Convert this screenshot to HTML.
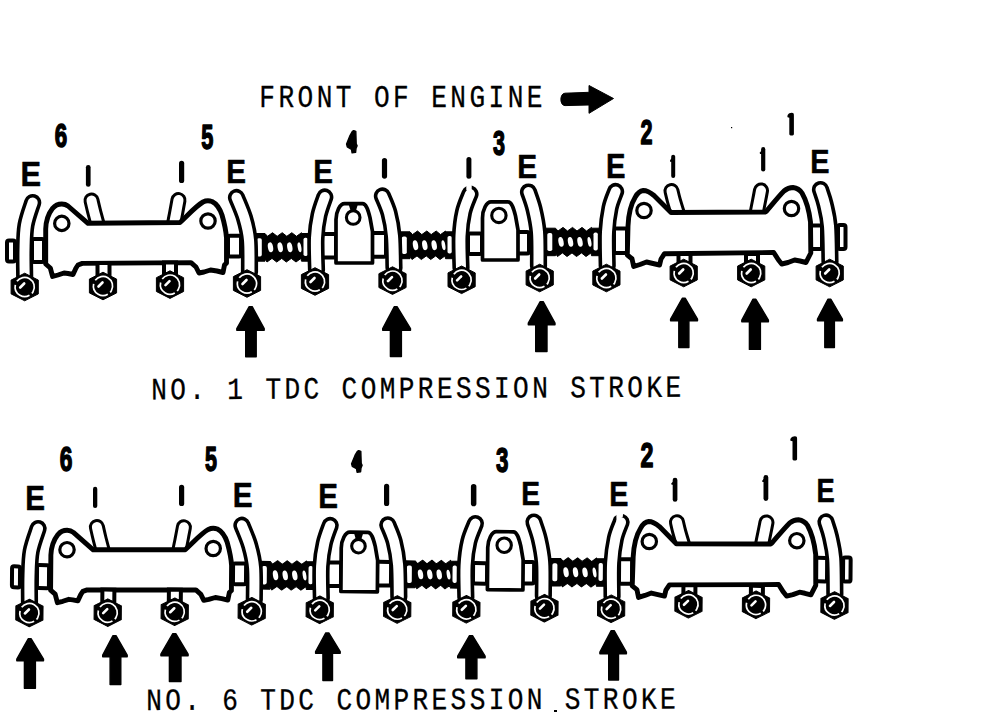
<!DOCTYPE html>
<html><head><meta charset="utf-8"><style>
html,body{margin:0;padding:0;background:#fff;}
svg{display:block;}
</style></head><body>
<svg width="996" height="722" viewBox="0 0 996 722">
<rect width="996" height="722" fill="#fff"/>
<g id="asm">
<rect x="7.0" y="240.5" width="8.0" height="21.0" rx="2" fill="#fff" stroke="#000" stroke-width="4"/>
<rect x="32.0" y="239.0" width="12.0" height="23.0" rx="2" fill="#fff" stroke="#000" stroke-width="4"/>
<rect x="228.0" y="235.8" width="13.0" height="20.7" rx="2" fill="#fff" stroke="#000" stroke-width="4"/>
<path d="M254.0,233.5 L265.0,233.5 L267.5,236.3 L272.5,232.7 L277.2,236.3 L282.2,232.7 L286.8,236.3 L291.8,232.7 L296.5,236.3 L301.5,232.7 L301.5,233.5 L311.0,233.5 L311.0,261.2 L301.5,261.2 L301.0,258.4 L296.0,262.0 L291.3,258.4 L286.3,262.0 L281.7,258.4 L276.7,262.0 L272.0,258.4 L267.0,262.0 L265.0,258.9 L265.0,261.2 L254.0,261.2 Z" fill="#000" stroke="#000" stroke-width="1" stroke-linejoin="round"/><rect x="256.8" y="238.2" width="5" height="18.3" rx="1.8" fill="#fff"/><rect x="303.5" y="237.7" width="4.3" height="18.3" rx="1.8" fill="#fff"/><ellipse cx="270.5" cy="247.3" rx="2.6" ry="5" fill="#fff" transform="rotate(-10 270.5 247.3)"/><ellipse cx="280.2" cy="247.3" rx="2.6" ry="5" fill="#fff" transform="rotate(-10 280.2 247.3)"/><ellipse cx="289.8" cy="247.3" rx="2.6" ry="5" fill="#fff" transform="rotate(-10 289.8 247.3)"/><ellipse cx="299.5" cy="247.3" rx="1.8" ry="5" fill="#fff" transform="rotate(-10 299.5 247.3)"/>
<rect x="322.0" y="234.0" width="14.0" height="23.5" rx="2" fill="#fff" stroke="#000" stroke-width="4"/>
<rect x="372.0" y="233.0" width="14.0" height="23.7" rx="2" fill="#fff" stroke="#000" stroke-width="4"/>
<path d="M399.0,231.8 L410.0,231.8 L412.5,234.6 L417.5,231.0 L421.8,234.6 L426.8,231.0 L431.2,234.6 L436.2,231.0 L440.5,234.6 L445.5,231.0 L445.5,231.8 L455.0,231.8 L455.0,258.7 L445.5,258.7 L445.0,255.9 L440.0,259.5 L435.7,255.9 L430.7,259.5 L426.3,255.9 L421.3,259.5 L417.0,255.9 L412.0,259.5 L410.0,256.4 L410.0,258.7 L399.0,258.7 Z" fill="#000" stroke="#000" stroke-width="1" stroke-linejoin="round"/><rect x="401.8" y="236.5" width="5" height="17.5" rx="1.8" fill="#fff"/><rect x="447.5" y="236.0" width="4.3" height="17.5" rx="1.8" fill="#fff"/><ellipse cx="415.5" cy="245.2" rx="2.6" ry="5" fill="#fff" transform="rotate(-10 415.5 245.2)"/><ellipse cx="424.8" cy="245.2" rx="2.6" ry="5" fill="#fff" transform="rotate(-10 424.8 245.2)"/><ellipse cx="434.2" cy="245.2" rx="2.6" ry="5" fill="#fff" transform="rotate(-10 434.2 245.2)"/><ellipse cx="443.5" cy="245.2" rx="1.8" ry="5" fill="#fff" transform="rotate(-10 443.5 245.2)"/>
<rect x="468.0" y="233.5" width="14.0" height="20.5" rx="2" fill="#fff" stroke="#000" stroke-width="4"/>
<rect x="517.0" y="232.0" width="12.0" height="21.5" rx="2" fill="#fff" stroke="#000" stroke-width="4"/>
<path d="M544.5,228.2 L555.5,228.2 L558.0,231.0 L563.0,227.4 L567.5,231.0 L572.5,227.4 L577.0,231.0 L582.0,227.4 L586.5,231.0 L591.5,227.4 L591.5,228.2 L601.0,228.2 L601.0,255.7 L591.5,255.7 L591.0,252.9 L586.0,256.5 L581.5,252.9 L576.5,256.5 L572.0,252.9 L567.0,256.5 L562.5,252.9 L557.5,256.5 L555.5,253.4 L555.5,255.7 L544.5,255.7 Z" fill="#000" stroke="#000" stroke-width="1" stroke-linejoin="round"/><rect x="547.3" y="232.9" width="5" height="18.1" rx="1.8" fill="#fff"/><rect x="593.5" y="232.4" width="4.3" height="18.1" rx="1.8" fill="#fff"/><ellipse cx="561.0" cy="241.9" rx="2.6" ry="5" fill="#fff" transform="rotate(-10 561.0 241.9)"/><ellipse cx="570.5" cy="241.9" rx="2.6" ry="5" fill="#fff" transform="rotate(-10 570.5 241.9)"/><ellipse cx="580.0" cy="241.9" rx="2.6" ry="5" fill="#fff" transform="rotate(-10 580.0 241.9)"/><ellipse cx="589.5" cy="241.9" rx="1.8" ry="5" fill="#fff" transform="rotate(-10 589.5 241.9)"/>
<rect x="614.0" y="228.5" width="13.0" height="24.5" rx="2" fill="#fff" stroke="#000" stroke-width="4"/>
<rect x="811.0" y="225.5" width="11.0" height="23.5" rx="2" fill="#fff" stroke="#000" stroke-width="4"/>
<rect x="838.0" y="225.0" width="7.5" height="24.0" rx="2" fill="#fff" stroke="#000" stroke-width="4"/>
<path d="M91.5,200.5 C91.9,202.2 93.0,207.1 94.0,211.0 C95.0,214.9 96.9,221.8 97.5,224.0" stroke="#000" stroke-width="16" fill="none" stroke-linecap="round" stroke-linejoin="round"/><path d="M91.5,200.5 C91.9,202.2 93.0,207.1 94.0,211.0 C95.0,214.9 96.9,221.8 97.5,224.0" stroke="#fff" stroke-width="10" fill="none" stroke-linecap="round" stroke-linejoin="round"/>
<path d="M178.5,200.0 C178.2,201.8 177.2,207.0 176.5,211.0 C175.8,215.0 174.4,221.8 174.0,224.0" stroke="#000" stroke-width="16" fill="none" stroke-linecap="round" stroke-linejoin="round"/><path d="M178.5,200.0 C178.2,201.8 177.2,207.0 176.5,211.0 C175.8,215.0 174.4,221.8 174.0,224.0" stroke="#fff" stroke-width="10" fill="none" stroke-linecap="round" stroke-linejoin="round"/>
<path d="M671.5,191.0 C671.9,192.7 672.9,197.2 674.0,201.0 C675.1,204.8 677.3,211.8 678.0,214.0" stroke="#000" stroke-width="16" fill="none" stroke-linecap="round" stroke-linejoin="round"/><path d="M671.5,191.0 C671.9,192.7 672.9,197.2 674.0,201.0 C675.1,204.8 677.3,211.8 678.0,214.0" stroke="#fff" stroke-width="10" fill="none" stroke-linecap="round" stroke-linejoin="round"/>
<path d="M761.0,190.5 C760.7,192.2 759.8,197.1 759.0,201.0 C758.2,204.9 756.9,211.8 756.5,214.0" stroke="#000" stroke-width="16" fill="none" stroke-linecap="round" stroke-linejoin="round"/><path d="M761.0,190.5 C760.7,192.2 759.8,197.1 759.0,201.0 C758.2,204.9 756.9,211.8 756.5,214.0" stroke="#fff" stroke-width="10" fill="none" stroke-linecap="round" stroke-linejoin="round"/>
<path d="M45.7,264 L45.7,229 C46,220 49,213 52.6,208.3 C55,205.5 58,204 61.8,204 C64,204 66,204.5 68,206 L88,223.3 L180,222.5 C188,215 196,206 203,202 C206,200.5 209,200.5 212,201.5 C217,204 220,209 222,215 C224,222 226,230 226.5,238 L226.5,263 L224.5,265 L223,272.5 L217,271 L210.5,270 L204,272 L199,273 L196,267 L191,262.6 L82.3,263.4 L78,265 L76,268 L73,274.5 L68,273.5 L64,273 L58,275 L52.6,276.5 L50.3,268 Z" fill="#fff" stroke="#000" stroke-width="4.9" stroke-linejoin="round"/>
<circle cx="61.8" cy="223.4" r="7.2" fill="#fff" stroke="#000" stroke-width="3.2"/>
<circle cx="208" cy="221" r="7.2" fill="#fff" stroke="#000" stroke-width="3.2"/>
<path d="M627.3,255 L628,226 C628.5,214 631,204 635.3,197 C637.5,193 640,191 643.3,190.5 C647,190.5 651,193 654,195.5 L671,212.5 L765.7,212 C771,206 778,197 784,191 C787,188.5 790,187.5 793,187.5 C797,188 800,190 802,193 C806,200 809,210 810.5,222 L810.8,253 L806,262.5 L800,261 L794.6,260 L788,262.5 L781.7,264 L778.5,260 L773.7,252.5 L664.5,253.7 L661,259 L659.6,265 L653,263.5 L646.5,262 L640,264.5 L633.7,266.5 L632,258.7 Z" fill="#fff" stroke="#000" stroke-width="4.9" stroke-linejoin="round"/>
<circle cx="644" cy="210.5" r="7.2" fill="#fff" stroke="#000" stroke-width="3.2"/>
<circle cx="791.5" cy="208.5" r="7.2" fill="#fff" stroke="#000" stroke-width="3.2"/>
<path d="M336.0,263.0 L336.0,219.6 C336.0,211.6 340.0,203.6 344.5,203.6 L362.5,203.6 C366.0,203.6 368.0,209.6 370.0,217.6 L372.5,231.6 L372.5,263.0 Z" fill="#fff" stroke="#000" stroke-width="3.7" stroke-linejoin="round"/><circle cx="353.2" cy="217.5" r="6.8" fill="#fff" stroke="#000" stroke-width="3.1"/>
<path d="M348.5,204 L358,204 L356,210.5 L350.5,210.5 Z" fill="#000"/>
<path d="M482.5,260.0 L482.5,217.9 C482.5,209.9 486.5,201.9 491.0,201.9 L508.0,201.9 C511.5,201.9 513.5,207.9 515.5,215.9 L518.0,229.9 L518.0,260.0 Z" fill="#fff" stroke="#000" stroke-width="3.7" stroke-linejoin="round"/><circle cx="498.9" cy="215.4" r="7.2" fill="#fff" stroke="#000" stroke-width="3.1"/>
<rect x="97.5" y="263.0" width="12.0" height="13.0" fill="#fff" stroke="#000" stroke-width="4"/>
<rect x="164.0" y="262.5" width="12.0" height="11.5" fill="#fff" stroke="#000" stroke-width="4"/>
<rect x="678.5" y="254.0" width="12.0" height="10.0" fill="#fff" stroke="#000" stroke-width="4"/>
<rect x="746.0" y="254.0" width="12.0" height="10.0" fill="#fff" stroke="#000" stroke-width="4"/>
<path d="M32.7,202.5 C31.6,206.2 27.4,217.1 26.0,225.0 C24.6,232.9 24.7,241.2 24.5,250.0 C24.3,258.8 24.7,273.3 24.7,278.0" stroke="#000" stroke-width="17.2" fill="none" stroke-linecap="round" stroke-linejoin="round"/><path d="M32.7,202.5 C31.6,206.2 27.4,217.1 26.0,225.0 C24.6,232.9 24.7,241.2 24.5,250.0 C24.3,258.8 24.7,273.3 24.7,278.0" stroke="#fff" stroke-width="10" fill="none" stroke-linecap="round" stroke-linejoin="round"/>
<path d="M236.5,197.5 C237.8,200.9 242.4,210.9 244.5,218.0 C246.6,225.1 248.2,231.0 249.0,240.0 C249.8,249.0 249.4,266.7 249.5,272.0" stroke="#000" stroke-width="17.2" fill="none" stroke-linecap="round" stroke-linejoin="round"/><path d="M236.5,197.5 C237.8,200.9 242.4,210.9 244.5,218.0 C246.6,225.1 248.2,231.0 249.0,240.0 C249.8,249.0 249.4,266.7 249.5,272.0" stroke="#fff" stroke-width="10" fill="none" stroke-linecap="round" stroke-linejoin="round"/>
<path d="M324.8,197.0 C323.8,200.0 320.5,208.2 319.0,215.0 C317.5,221.8 316.4,228.8 316.0,238.0 C315.6,247.2 316.4,264.7 316.5,270.0" stroke="#000" stroke-width="17.2" fill="none" stroke-linecap="round" stroke-linejoin="round"/><path d="M324.8,197.0 C323.8,200.0 320.5,208.2 319.0,215.0 C317.5,221.8 316.4,228.8 316.0,238.0 C315.6,247.2 316.4,264.7 316.5,270.0" stroke="#fff" stroke-width="10" fill="none" stroke-linecap="round" stroke-linejoin="round"/>
<path d="M382.4,196.0 C383.5,198.8 387.2,206.3 389.0,213.0 C390.8,219.7 392.2,226.8 393.0,236.0 C393.8,245.2 393.8,262.7 394.0,268.0" stroke="#000" stroke-width="17.2" fill="none" stroke-linecap="round" stroke-linejoin="round"/><path d="M382.4,196.0 C383.5,198.8 387.2,206.3 389.0,213.0 C390.8,219.7 392.2,226.8 393.0,236.0 C393.8,245.2 393.8,262.7 394.0,268.0" stroke="#fff" stroke-width="10" fill="none" stroke-linecap="round" stroke-linejoin="round"/>
<path d="M470.0,194.0 C468.9,197.0 465.1,205.0 463.5,212.0 C461.9,219.0 460.9,226.7 460.5,236.0 C460.1,245.3 460.9,262.7 461.0,268.0" stroke="#000" stroke-width="17.2" fill="none" stroke-linecap="round" stroke-linejoin="round"/><path d="M470.0,194.0 C468.9,197.0 465.1,205.0 463.5,212.0 C461.9,219.0 460.9,226.7 460.5,236.0 C460.1,245.3 460.9,262.7 461.0,268.0" stroke="#fff" stroke-width="10" fill="none" stroke-linecap="round" stroke-linejoin="round"/>
<path d="M528.5,192.0 C529.4,194.8 532.4,202.3 534.0,209.0 C535.6,215.7 537.2,222.5 538.0,232.0 C538.8,241.5 538.4,260.3 538.5,266.0" stroke="#000" stroke-width="17.2" fill="none" stroke-linecap="round" stroke-linejoin="round"/><path d="M528.5,192.0 C529.4,194.8 532.4,202.3 534.0,209.0 C535.6,215.7 537.2,222.5 538.0,232.0 C538.8,241.5 538.4,260.3 538.5,266.0" stroke="#fff" stroke-width="10" fill="none" stroke-linecap="round" stroke-linejoin="round"/>
<path d="M615.6,191.5 C614.7,194.2 611.4,201.2 610.0,208.0 C608.6,214.8 607.5,222.3 607.0,232.0 C606.5,241.7 607.2,260.3 607.2,266.0" stroke="#000" stroke-width="17.2" fill="none" stroke-linecap="round" stroke-linejoin="round"/><path d="M615.6,191.5 C614.7,194.2 611.4,201.2 610.0,208.0 C608.6,214.8 607.5,222.3 607.0,232.0 C606.5,241.7 607.2,260.3 607.2,266.0" stroke="#fff" stroke-width="10" fill="none" stroke-linecap="round" stroke-linejoin="round"/>
<path d="M820.5,189.5 C821.2,191.9 823.6,197.9 825.0,204.0 C826.4,210.1 828.2,216.3 829.0,226.0 C829.8,235.7 829.8,256.0 830.0,262.0" stroke="#000" stroke-width="17.2" fill="none" stroke-linecap="round" stroke-linejoin="round"/><path d="M820.5,189.5 C821.2,191.9 823.6,197.9 825.0,204.0 C826.4,210.1 828.2,216.3 829.0,226.0 C829.8,235.7 829.8,256.0 830.0,262.0" stroke="#fff" stroke-width="10" fill="none" stroke-linecap="round" stroke-linejoin="round"/>
<polygon points="24.7,273.2 38.3,280.1 38.3,293.9 24.7,300.8 11.1,293.9 11.1,280.1" fill="#000" stroke="#000" stroke-width="1" stroke-linejoin="round"/><circle cx="24.7" cy="287.0" r="9.6" fill="none" stroke="#fff" stroke-width="1.7" stroke-dasharray="17 3 22 4" transform="rotate(-60 24.7 287.0)"/><line x1="20.2" y1="287.5" x2="24.2" y2="283.5" stroke="#fff" stroke-width="2.6" stroke-linecap="round"/>
<polygon points="103.0,272.2 116.6,279.1 116.6,292.9 103.0,299.8 89.4,292.9 89.4,279.1" fill="#000" stroke="#000" stroke-width="1" stroke-linejoin="round"/><circle cx="103.0" cy="286.0" r="9.6" fill="none" stroke="#fff" stroke-width="1.7" stroke-dasharray="17 3 22 4" transform="rotate(-60 103.0 286.0)"/><line x1="98.5" y1="286.5" x2="102.5" y2="282.5" stroke="#fff" stroke-width="2.6" stroke-linecap="round"/>
<polygon points="170.0,270.8 183.6,277.7 183.6,291.5 170.0,298.4 156.4,291.5 156.4,277.7" fill="#000" stroke="#000" stroke-width="1" stroke-linejoin="round"/><circle cx="170.0" cy="284.6" r="9.6" fill="none" stroke="#fff" stroke-width="1.7" stroke-dasharray="17 3 22 4" transform="rotate(-60 170.0 284.6)"/><line x1="165.5" y1="285.1" x2="169.5" y2="281.1" stroke="#fff" stroke-width="2.6" stroke-linecap="round"/>
<polygon points="247.0,269.7 260.6,276.6 260.6,290.4 247.0,297.3 233.4,290.4 233.4,276.6" fill="#000" stroke="#000" stroke-width="1" stroke-linejoin="round"/><circle cx="247.0" cy="283.5" r="9.6" fill="none" stroke="#fff" stroke-width="1.7" stroke-dasharray="17 3 22 4" transform="rotate(-60 247.0 283.5)"/><line x1="242.5" y1="284.0" x2="246.5" y2="280.0" stroke="#fff" stroke-width="2.6" stroke-linecap="round"/>
<polygon points="315.0,267.7 328.6,274.6 328.6,288.4 315.0,295.3 301.4,288.4 301.4,274.6" fill="#000" stroke="#000" stroke-width="1" stroke-linejoin="round"/><circle cx="315.0" cy="281.5" r="9.6" fill="none" stroke="#fff" stroke-width="1.7" stroke-dasharray="17 3 22 4" transform="rotate(-60 315.0 281.5)"/><line x1="310.5" y1="282.0" x2="314.5" y2="278.0" stroke="#fff" stroke-width="2.6" stroke-linecap="round"/>
<polygon points="392.5,266.8 406.1,273.7 406.1,287.5 392.5,294.4 378.9,287.5 378.9,273.7" fill="#000" stroke="#000" stroke-width="1" stroke-linejoin="round"/><circle cx="392.5" cy="280.6" r="9.6" fill="none" stroke="#fff" stroke-width="1.7" stroke-dasharray="17 3 22 4" transform="rotate(-60 392.5 280.6)"/><line x1="388.0" y1="281.1" x2="392.0" y2="277.1" stroke="#fff" stroke-width="2.6" stroke-linecap="round"/>
<polygon points="461.6,266.0 475.2,272.9 475.2,286.7 461.6,293.6 448.0,286.7 448.0,272.9" fill="#000" stroke="#000" stroke-width="1" stroke-linejoin="round"/><circle cx="461.6" cy="279.8" r="9.6" fill="none" stroke="#fff" stroke-width="1.7" stroke-dasharray="17 3 22 4" transform="rotate(-60 461.6 279.8)"/><line x1="457.1" y1="280.3" x2="461.1" y2="276.3" stroke="#fff" stroke-width="2.6" stroke-linecap="round"/>
<polygon points="539.7,264.2 553.3,271.1 553.3,284.9 539.7,291.8 526.1,284.9 526.1,271.1" fill="#000" stroke="#000" stroke-width="1" stroke-linejoin="round"/><circle cx="539.7" cy="278.0" r="9.6" fill="none" stroke="#fff" stroke-width="1.7" stroke-dasharray="17 3 22 4" transform="rotate(-60 539.7 278.0)"/><line x1="535.2" y1="278.5" x2="539.2" y2="274.5" stroke="#fff" stroke-width="2.6" stroke-linecap="round"/>
<polygon points="606.4,264.2 620.0,271.1 620.0,284.9 606.4,291.8 592.8,284.9 592.8,271.1" fill="#000" stroke="#000" stroke-width="1" stroke-linejoin="round"/><circle cx="606.4" cy="278.0" r="9.6" fill="none" stroke="#fff" stroke-width="1.7" stroke-dasharray="17 3 22 4" transform="rotate(-60 606.4 278.0)"/><line x1="601.9" y1="278.5" x2="605.9" y2="274.5" stroke="#fff" stroke-width="2.6" stroke-linecap="round"/>
<polygon points="683.7,259.2 697.3,266.1 697.3,279.9 683.7,286.8 670.1,279.9 670.1,266.1" fill="#000" stroke="#000" stroke-width="1" stroke-linejoin="round"/><circle cx="683.7" cy="273.0" r="9.6" fill="none" stroke="#fff" stroke-width="1.7" stroke-dasharray="17 3 22 4" transform="rotate(-60 683.7 273.0)"/><line x1="679.2" y1="273.5" x2="683.2" y2="269.5" stroke="#fff" stroke-width="2.6" stroke-linecap="round"/>
<polygon points="751.2,259.2 764.8,266.1 764.8,279.9 751.2,286.8 737.6,279.9 737.6,266.1" fill="#000" stroke="#000" stroke-width="1" stroke-linejoin="round"/><circle cx="751.2" cy="273.0" r="9.6" fill="none" stroke="#fff" stroke-width="1.7" stroke-dasharray="17 3 22 4" transform="rotate(-60 751.2 273.0)"/><line x1="746.7" y1="273.5" x2="750.7" y2="269.5" stroke="#fff" stroke-width="2.6" stroke-linecap="round"/>
<polygon points="829.7,259.2 843.3,266.1 843.3,279.9 829.7,286.8 816.1,279.9 816.1,266.1" fill="#000" stroke="#000" stroke-width="1" stroke-linejoin="round"/><circle cx="829.7" cy="273.0" r="9.6" fill="none" stroke="#fff" stroke-width="1.7" stroke-dasharray="17 3 22 4" transform="rotate(-60 829.7 273.0)"/><line x1="825.2" y1="273.5" x2="829.2" y2="269.5" stroke="#fff" stroke-width="2.6" stroke-linecap="round"/>
</g>
<rect x="466.3" y="184" width="5.4" height="6.2" fill="#fff"/>
<g transform="translate(5,326) rotate(0.4626 25 250)">
<rect x="7.0" y="240.5" width="8.0" height="21.0" rx="2" fill="#fff" stroke="#000" stroke-width="4"/>
<rect x="32.0" y="239.0" width="12.0" height="23.0" rx="2" fill="#fff" stroke="#000" stroke-width="4"/>
<rect x="228.0" y="235.8" width="13.0" height="20.7" rx="2" fill="#fff" stroke="#000" stroke-width="4"/>
<path d="M254.0,233.5 L265.0,233.5 L267.5,236.3 L272.5,232.7 L277.2,236.3 L282.2,232.7 L286.8,236.3 L291.8,232.7 L296.5,236.3 L301.5,232.7 L301.5,233.5 L311.0,233.5 L311.0,261.2 L301.5,261.2 L301.0,258.4 L296.0,262.0 L291.3,258.4 L286.3,262.0 L281.7,258.4 L276.7,262.0 L272.0,258.4 L267.0,262.0 L265.0,258.9 L265.0,261.2 L254.0,261.2 Z" fill="#000" stroke="#000" stroke-width="1" stroke-linejoin="round"/><rect x="256.8" y="238.2" width="5" height="18.3" rx="1.8" fill="#fff"/><rect x="303.5" y="237.7" width="4.3" height="18.3" rx="1.8" fill="#fff"/><ellipse cx="270.5" cy="247.3" rx="2.6" ry="5" fill="#fff" transform="rotate(-10 270.5 247.3)"/><ellipse cx="280.2" cy="247.3" rx="2.6" ry="5" fill="#fff" transform="rotate(-10 280.2 247.3)"/><ellipse cx="289.8" cy="247.3" rx="2.6" ry="5" fill="#fff" transform="rotate(-10 289.8 247.3)"/><ellipse cx="299.5" cy="247.3" rx="1.8" ry="5" fill="#fff" transform="rotate(-10 299.5 247.3)"/>
<rect x="322.0" y="234.0" width="14.0" height="23.5" rx="2" fill="#fff" stroke="#000" stroke-width="4"/>
<rect x="372.0" y="233.0" width="14.0" height="23.7" rx="2" fill="#fff" stroke="#000" stroke-width="4"/>
<path d="M399.0,231.8 L410.0,231.8 L412.5,234.6 L417.5,231.0 L421.8,234.6 L426.8,231.0 L431.2,234.6 L436.2,231.0 L440.5,234.6 L445.5,231.0 L445.5,231.8 L455.0,231.8 L455.0,258.7 L445.5,258.7 L445.0,255.9 L440.0,259.5 L435.7,255.9 L430.7,259.5 L426.3,255.9 L421.3,259.5 L417.0,255.9 L412.0,259.5 L410.0,256.4 L410.0,258.7 L399.0,258.7 Z" fill="#000" stroke="#000" stroke-width="1" stroke-linejoin="round"/><rect x="401.8" y="236.5" width="5" height="17.5" rx="1.8" fill="#fff"/><rect x="447.5" y="236.0" width="4.3" height="17.5" rx="1.8" fill="#fff"/><ellipse cx="415.5" cy="245.2" rx="2.6" ry="5" fill="#fff" transform="rotate(-10 415.5 245.2)"/><ellipse cx="424.8" cy="245.2" rx="2.6" ry="5" fill="#fff" transform="rotate(-10 424.8 245.2)"/><ellipse cx="434.2" cy="245.2" rx="2.6" ry="5" fill="#fff" transform="rotate(-10 434.2 245.2)"/><ellipse cx="443.5" cy="245.2" rx="1.8" ry="5" fill="#fff" transform="rotate(-10 443.5 245.2)"/>
<rect x="468.0" y="233.5" width="14.0" height="20.5" rx="2" fill="#fff" stroke="#000" stroke-width="4"/>
<rect x="517.0" y="232.0" width="12.0" height="21.5" rx="2" fill="#fff" stroke="#000" stroke-width="4"/>
<path d="M544.5,228.2 L555.5,228.2 L558.0,231.0 L563.0,227.4 L567.5,231.0 L572.5,227.4 L577.0,231.0 L582.0,227.4 L586.5,231.0 L591.5,227.4 L591.5,228.2 L601.0,228.2 L601.0,255.7 L591.5,255.7 L591.0,252.9 L586.0,256.5 L581.5,252.9 L576.5,256.5 L572.0,252.9 L567.0,256.5 L562.5,252.9 L557.5,256.5 L555.5,253.4 L555.5,255.7 L544.5,255.7 Z" fill="#000" stroke="#000" stroke-width="1" stroke-linejoin="round"/><rect x="547.3" y="232.9" width="5" height="18.1" rx="1.8" fill="#fff"/><rect x="593.5" y="232.4" width="4.3" height="18.1" rx="1.8" fill="#fff"/><ellipse cx="561.0" cy="241.9" rx="2.6" ry="5" fill="#fff" transform="rotate(-10 561.0 241.9)"/><ellipse cx="570.5" cy="241.9" rx="2.6" ry="5" fill="#fff" transform="rotate(-10 570.5 241.9)"/><ellipse cx="580.0" cy="241.9" rx="2.6" ry="5" fill="#fff" transform="rotate(-10 580.0 241.9)"/><ellipse cx="589.5" cy="241.9" rx="1.8" ry="5" fill="#fff" transform="rotate(-10 589.5 241.9)"/>
<rect x="614.0" y="228.5" width="13.0" height="24.5" rx="2" fill="#fff" stroke="#000" stroke-width="4"/>
<rect x="811.0" y="225.5" width="11.0" height="23.5" rx="2" fill="#fff" stroke="#000" stroke-width="4"/>
<rect x="838.0" y="225.0" width="7.5" height="24.0" rx="2" fill="#fff" stroke="#000" stroke-width="4"/>
<path d="M91.5,200.5 C91.9,202.2 93.0,207.1 94.0,211.0 C95.0,214.9 96.9,221.8 97.5,224.0" stroke="#000" stroke-width="16" fill="none" stroke-linecap="round" stroke-linejoin="round"/><path d="M91.5,200.5 C91.9,202.2 93.0,207.1 94.0,211.0 C95.0,214.9 96.9,221.8 97.5,224.0" stroke="#fff" stroke-width="10" fill="none" stroke-linecap="round" stroke-linejoin="round"/>
<path d="M178.5,200.0 C178.2,201.8 177.2,207.0 176.5,211.0 C175.8,215.0 174.4,221.8 174.0,224.0" stroke="#000" stroke-width="16" fill="none" stroke-linecap="round" stroke-linejoin="round"/><path d="M178.5,200.0 C178.2,201.8 177.2,207.0 176.5,211.0 C175.8,215.0 174.4,221.8 174.0,224.0" stroke="#fff" stroke-width="10" fill="none" stroke-linecap="round" stroke-linejoin="round"/>
<path d="M671.5,191.0 C671.9,192.7 672.9,197.2 674.0,201.0 C675.1,204.8 677.3,211.8 678.0,214.0" stroke="#000" stroke-width="16" fill="none" stroke-linecap="round" stroke-linejoin="round"/><path d="M671.5,191.0 C671.9,192.7 672.9,197.2 674.0,201.0 C675.1,204.8 677.3,211.8 678.0,214.0" stroke="#fff" stroke-width="10" fill="none" stroke-linecap="round" stroke-linejoin="round"/>
<path d="M761.0,190.5 C760.7,192.2 759.8,197.1 759.0,201.0 C758.2,204.9 756.9,211.8 756.5,214.0" stroke="#000" stroke-width="16" fill="none" stroke-linecap="round" stroke-linejoin="round"/><path d="M761.0,190.5 C760.7,192.2 759.8,197.1 759.0,201.0 C758.2,204.9 756.9,211.8 756.5,214.0" stroke="#fff" stroke-width="10" fill="none" stroke-linecap="round" stroke-linejoin="round"/>
<path d="M45.7,264 L45.7,229 C46,220 49,213 52.6,208.3 C55,205.5 58,204 61.8,204 C64,204 66,204.5 68,206 L88,223.3 L180,222.5 C188,215 196,206 203,202 C206,200.5 209,200.5 212,201.5 C217,204 220,209 222,215 C224,222 226,230 226.5,238 L226.5,263 L224.5,265 L223,272.5 L217,271 L210.5,270 L204,272 L199,273 L196,267 L191,262.6 L82.3,263.4 L78,265 L76,268 L73,274.5 L68,273.5 L64,273 L58,275 L52.6,276.5 L50.3,268 Z" fill="#fff" stroke="#000" stroke-width="4.9" stroke-linejoin="round"/>
<circle cx="61.8" cy="223.4" r="7.2" fill="#fff" stroke="#000" stroke-width="3.2"/>
<circle cx="208" cy="221" r="7.2" fill="#fff" stroke="#000" stroke-width="3.2"/>
<path d="M627.3,255 L628,226 C628.5,214 631,204 635.3,197 C637.5,193 640,191 643.3,190.5 C647,190.5 651,193 654,195.5 L671,212.5 L765.7,212 C771,206 778,197 784,191 C787,188.5 790,187.5 793,187.5 C797,188 800,190 802,193 C806,200 809,210 810.5,222 L810.8,253 L806,262.5 L800,261 L794.6,260 L788,262.5 L781.7,264 L778.5,260 L773.7,252.5 L664.5,253.7 L661,259 L659.6,265 L653,263.5 L646.5,262 L640,264.5 L633.7,266.5 L632,258.7 Z" fill="#fff" stroke="#000" stroke-width="4.9" stroke-linejoin="round"/>
<circle cx="644" cy="210.5" r="7.2" fill="#fff" stroke="#000" stroke-width="3.2"/>
<circle cx="791.5" cy="208.5" r="7.2" fill="#fff" stroke="#000" stroke-width="3.2"/>
<path d="M336.0,263.0 L336.0,219.6 C336.0,211.6 340.0,203.6 344.5,203.6 L362.5,203.6 C366.0,203.6 368.0,209.6 370.0,217.6 L372.5,231.6 L372.5,263.0 Z" fill="#fff" stroke="#000" stroke-width="3.7" stroke-linejoin="round"/><circle cx="353.2" cy="217.5" r="6.8" fill="#fff" stroke="#000" stroke-width="3.1"/>
<path d="M348.5,204 L358,204 L356,210.5 L350.5,210.5 Z" fill="#000"/>
<path d="M482.5,260.0 L482.5,217.9 C482.5,209.9 486.5,201.9 491.0,201.9 L508.0,201.9 C511.5,201.9 513.5,207.9 515.5,215.9 L518.0,229.9 L518.0,260.0 Z" fill="#fff" stroke="#000" stroke-width="3.7" stroke-linejoin="round"/><circle cx="498.9" cy="215.4" r="7.2" fill="#fff" stroke="#000" stroke-width="3.1"/>
<rect x="97.5" y="263.0" width="12.0" height="13.0" fill="#fff" stroke="#000" stroke-width="4"/>
<rect x="164.0" y="262.5" width="12.0" height="11.5" fill="#fff" stroke="#000" stroke-width="4"/>
<rect x="678.5" y="254.0" width="12.0" height="10.0" fill="#fff" stroke="#000" stroke-width="4"/>
<rect x="746.0" y="254.0" width="12.0" height="10.0" fill="#fff" stroke="#000" stroke-width="4"/>
<path d="M32.7,202.5 C31.6,206.2 27.4,217.1 26.0,225.0 C24.6,232.9 24.7,241.2 24.5,250.0 C24.3,258.8 24.7,273.3 24.7,278.0" stroke="#000" stroke-width="17.2" fill="none" stroke-linecap="round" stroke-linejoin="round"/><path d="M32.7,202.5 C31.6,206.2 27.4,217.1 26.0,225.0 C24.6,232.9 24.7,241.2 24.5,250.0 C24.3,258.8 24.7,273.3 24.7,278.0" stroke="#fff" stroke-width="10" fill="none" stroke-linecap="round" stroke-linejoin="round"/>
<path d="M236.5,197.5 C237.8,200.9 242.4,210.9 244.5,218.0 C246.6,225.1 248.2,231.0 249.0,240.0 C249.8,249.0 249.4,266.7 249.5,272.0" stroke="#000" stroke-width="17.2" fill="none" stroke-linecap="round" stroke-linejoin="round"/><path d="M236.5,197.5 C237.8,200.9 242.4,210.9 244.5,218.0 C246.6,225.1 248.2,231.0 249.0,240.0 C249.8,249.0 249.4,266.7 249.5,272.0" stroke="#fff" stroke-width="10" fill="none" stroke-linecap="round" stroke-linejoin="round"/>
<path d="M324.8,197.0 C323.8,200.0 320.5,208.2 319.0,215.0 C317.5,221.8 316.4,228.8 316.0,238.0 C315.6,247.2 316.4,264.7 316.5,270.0" stroke="#000" stroke-width="17.2" fill="none" stroke-linecap="round" stroke-linejoin="round"/><path d="M324.8,197.0 C323.8,200.0 320.5,208.2 319.0,215.0 C317.5,221.8 316.4,228.8 316.0,238.0 C315.6,247.2 316.4,264.7 316.5,270.0" stroke="#fff" stroke-width="10" fill="none" stroke-linecap="round" stroke-linejoin="round"/>
<path d="M382.4,196.0 C383.5,198.8 387.2,206.3 389.0,213.0 C390.8,219.7 392.2,226.8 393.0,236.0 C393.8,245.2 393.8,262.7 394.0,268.0" stroke="#000" stroke-width="17.2" fill="none" stroke-linecap="round" stroke-linejoin="round"/><path d="M382.4,196.0 C383.5,198.8 387.2,206.3 389.0,213.0 C390.8,219.7 392.2,226.8 393.0,236.0 C393.8,245.2 393.8,262.7 394.0,268.0" stroke="#fff" stroke-width="10" fill="none" stroke-linecap="round" stroke-linejoin="round"/>
<path d="M470.0,194.0 C468.9,197.0 465.1,205.0 463.5,212.0 C461.9,219.0 460.9,226.7 460.5,236.0 C460.1,245.3 460.9,262.7 461.0,268.0" stroke="#000" stroke-width="17.2" fill="none" stroke-linecap="round" stroke-linejoin="round"/><path d="M470.0,194.0 C468.9,197.0 465.1,205.0 463.5,212.0 C461.9,219.0 460.9,226.7 460.5,236.0 C460.1,245.3 460.9,262.7 461.0,268.0" stroke="#fff" stroke-width="10" fill="none" stroke-linecap="round" stroke-linejoin="round"/>
<path d="M528.5,192.0 C529.4,194.8 532.4,202.3 534.0,209.0 C535.6,215.7 537.2,222.5 538.0,232.0 C538.8,241.5 538.4,260.3 538.5,266.0" stroke="#000" stroke-width="17.2" fill="none" stroke-linecap="round" stroke-linejoin="round"/><path d="M528.5,192.0 C529.4,194.8 532.4,202.3 534.0,209.0 C535.6,215.7 537.2,222.5 538.0,232.0 C538.8,241.5 538.4,260.3 538.5,266.0" stroke="#fff" stroke-width="10" fill="none" stroke-linecap="round" stroke-linejoin="round"/>
<path d="M615.6,191.5 C614.7,194.2 611.4,201.2 610.0,208.0 C608.6,214.8 607.5,222.3 607.0,232.0 C606.5,241.7 607.2,260.3 607.2,266.0" stroke="#000" stroke-width="17.2" fill="none" stroke-linecap="round" stroke-linejoin="round"/><path d="M615.6,191.5 C614.7,194.2 611.4,201.2 610.0,208.0 C608.6,214.8 607.5,222.3 607.0,232.0 C606.5,241.7 607.2,260.3 607.2,266.0" stroke="#fff" stroke-width="10" fill="none" stroke-linecap="round" stroke-linejoin="round"/>
<path d="M820.5,189.5 C821.2,191.9 823.6,197.9 825.0,204.0 C826.4,210.1 828.2,216.3 829.0,226.0 C829.8,235.7 829.8,256.0 830.0,262.0" stroke="#000" stroke-width="17.2" fill="none" stroke-linecap="round" stroke-linejoin="round"/><path d="M820.5,189.5 C821.2,191.9 823.6,197.9 825.0,204.0 C826.4,210.1 828.2,216.3 829.0,226.0 C829.8,235.7 829.8,256.0 830.0,262.0" stroke="#fff" stroke-width="10" fill="none" stroke-linecap="round" stroke-linejoin="round"/>
<polygon points="24.7,273.2 38.3,280.1 38.3,293.9 24.7,300.8 11.1,293.9 11.1,280.1" fill="#000" stroke="#000" stroke-width="1" stroke-linejoin="round"/><circle cx="24.7" cy="287.0" r="9.6" fill="none" stroke="#fff" stroke-width="1.7" stroke-dasharray="17 3 22 4" transform="rotate(-60 24.7 287.0)"/><line x1="20.2" y1="287.5" x2="24.2" y2="283.5" stroke="#fff" stroke-width="2.6" stroke-linecap="round"/>
<polygon points="103.0,272.2 116.6,279.1 116.6,292.9 103.0,299.8 89.4,292.9 89.4,279.1" fill="#000" stroke="#000" stroke-width="1" stroke-linejoin="round"/><circle cx="103.0" cy="286.0" r="9.6" fill="none" stroke="#fff" stroke-width="1.7" stroke-dasharray="17 3 22 4" transform="rotate(-60 103.0 286.0)"/><line x1="98.5" y1="286.5" x2="102.5" y2="282.5" stroke="#fff" stroke-width="2.6" stroke-linecap="round"/>
<polygon points="170.0,270.8 183.6,277.7 183.6,291.5 170.0,298.4 156.4,291.5 156.4,277.7" fill="#000" stroke="#000" stroke-width="1" stroke-linejoin="round"/><circle cx="170.0" cy="284.6" r="9.6" fill="none" stroke="#fff" stroke-width="1.7" stroke-dasharray="17 3 22 4" transform="rotate(-60 170.0 284.6)"/><line x1="165.5" y1="285.1" x2="169.5" y2="281.1" stroke="#fff" stroke-width="2.6" stroke-linecap="round"/>
<polygon points="247.0,269.7 260.6,276.6 260.6,290.4 247.0,297.3 233.4,290.4 233.4,276.6" fill="#000" stroke="#000" stroke-width="1" stroke-linejoin="round"/><circle cx="247.0" cy="283.5" r="9.6" fill="none" stroke="#fff" stroke-width="1.7" stroke-dasharray="17 3 22 4" transform="rotate(-60 247.0 283.5)"/><line x1="242.5" y1="284.0" x2="246.5" y2="280.0" stroke="#fff" stroke-width="2.6" stroke-linecap="round"/>
<polygon points="315.0,267.7 328.6,274.6 328.6,288.4 315.0,295.3 301.4,288.4 301.4,274.6" fill="#000" stroke="#000" stroke-width="1" stroke-linejoin="round"/><circle cx="315.0" cy="281.5" r="9.6" fill="none" stroke="#fff" stroke-width="1.7" stroke-dasharray="17 3 22 4" transform="rotate(-60 315.0 281.5)"/><line x1="310.5" y1="282.0" x2="314.5" y2="278.0" stroke="#fff" stroke-width="2.6" stroke-linecap="round"/>
<polygon points="392.5,266.8 406.1,273.7 406.1,287.5 392.5,294.4 378.9,287.5 378.9,273.7" fill="#000" stroke="#000" stroke-width="1" stroke-linejoin="round"/><circle cx="392.5" cy="280.6" r="9.6" fill="none" stroke="#fff" stroke-width="1.7" stroke-dasharray="17 3 22 4" transform="rotate(-60 392.5 280.6)"/><line x1="388.0" y1="281.1" x2="392.0" y2="277.1" stroke="#fff" stroke-width="2.6" stroke-linecap="round"/>
<polygon points="461.6,266.0 475.2,272.9 475.2,286.7 461.6,293.6 448.0,286.7 448.0,272.9" fill="#000" stroke="#000" stroke-width="1" stroke-linejoin="round"/><circle cx="461.6" cy="279.8" r="9.6" fill="none" stroke="#fff" stroke-width="1.7" stroke-dasharray="17 3 22 4" transform="rotate(-60 461.6 279.8)"/><line x1="457.1" y1="280.3" x2="461.1" y2="276.3" stroke="#fff" stroke-width="2.6" stroke-linecap="round"/>
<polygon points="539.7,264.2 553.3,271.1 553.3,284.9 539.7,291.8 526.1,284.9 526.1,271.1" fill="#000" stroke="#000" stroke-width="1" stroke-linejoin="round"/><circle cx="539.7" cy="278.0" r="9.6" fill="none" stroke="#fff" stroke-width="1.7" stroke-dasharray="17 3 22 4" transform="rotate(-60 539.7 278.0)"/><line x1="535.2" y1="278.5" x2="539.2" y2="274.5" stroke="#fff" stroke-width="2.6" stroke-linecap="round"/>
<polygon points="606.4,264.2 620.0,271.1 620.0,284.9 606.4,291.8 592.8,284.9 592.8,271.1" fill="#000" stroke="#000" stroke-width="1" stroke-linejoin="round"/><circle cx="606.4" cy="278.0" r="9.6" fill="none" stroke="#fff" stroke-width="1.7" stroke-dasharray="17 3 22 4" transform="rotate(-60 606.4 278.0)"/><line x1="601.9" y1="278.5" x2="605.9" y2="274.5" stroke="#fff" stroke-width="2.6" stroke-linecap="round"/>
<polygon points="683.7,259.2 697.3,266.1 697.3,279.9 683.7,286.8 670.1,279.9 670.1,266.1" fill="#000" stroke="#000" stroke-width="1" stroke-linejoin="round"/><circle cx="683.7" cy="273.0" r="9.6" fill="none" stroke="#fff" stroke-width="1.7" stroke-dasharray="17 3 22 4" transform="rotate(-60 683.7 273.0)"/><line x1="679.2" y1="273.5" x2="683.2" y2="269.5" stroke="#fff" stroke-width="2.6" stroke-linecap="round"/>
<polygon points="751.2,259.2 764.8,266.1 764.8,279.9 751.2,286.8 737.6,279.9 737.6,266.1" fill="#000" stroke="#000" stroke-width="1" stroke-linejoin="round"/><circle cx="751.2" cy="273.0" r="9.6" fill="none" stroke="#fff" stroke-width="1.7" stroke-dasharray="17 3 22 4" transform="rotate(-60 751.2 273.0)"/><line x1="746.7" y1="273.5" x2="750.7" y2="269.5" stroke="#fff" stroke-width="2.6" stroke-linecap="round"/>
<polygon points="829.7,259.2 843.3,266.1 843.3,279.9 829.7,286.8 816.1,279.9 816.1,266.1" fill="#000" stroke="#000" stroke-width="1" stroke-linejoin="round"/><circle cx="829.7" cy="273.0" r="9.6" fill="none" stroke="#fff" stroke-width="1.7" stroke-dasharray="17 3 22 4" transform="rotate(-60 829.7 273.0)"/><line x1="825.2" y1="273.5" x2="829.2" y2="269.5" stroke="#fff" stroke-width="2.6" stroke-linecap="round"/>
</g>
<path d="M616.2,506 L623.6,506 L622.8,516.8 L616.5,521.6 Z" fill="#fff"/>
<g fill="#000">
<text stroke="#000" stroke-width="1.3" stroke-linejoin="round" vector-effect="non-scaling-stroke" transform="translate(54.73,147.12) scale(0.2234,0.3390)" font-family="Liberation Sans" font-weight="bold" font-size="100.0">6</text>
<text stroke="#000" stroke-width="1.3" stroke-linejoin="round" vector-effect="non-scaling-stroke" transform="translate(201.18,148.80) scale(0.2171,0.3540)" font-family="Liberation Sans" font-weight="bold" font-size="100.0">5</text>
<path d="M353.7,130.6 L355.8,131.3 L356.2,143.7 L357.1,145.7 L356.0,148.6 L355.6,152.4 L352.1,152.9 L351.5,149.3 L347.3,146.8 L346.6,144.1 L350.0,135.6 L352.4,131.3 Z" stroke="#000" stroke-width="1.4" stroke-linejoin="round"/>
<text stroke="#000" stroke-width="1.3" stroke-linejoin="round" vector-effect="non-scaling-stroke" transform="translate(493.06,154.86) scale(0.2153,0.3481)" font-family="Liberation Sans" font-weight="bold" font-size="100.0">3</text>
<text stroke="#000" stroke-width="1.3" stroke-linejoin="round" vector-effect="non-scaling-stroke" transform="translate(640.60,144.25) scale(0.2160,0.3494)" font-family="Liberation Sans" font-weight="bold" font-size="100.0">2</text>
<path d="M791.6,112.8 C793.9,112.8 793.9,113.8 793.9,115.8 L793.9,134.0 C793.9,136.0 789.3,136.0 789.3,134.0 L789.3,117.8 L787.6,117.3 C786.8,115.8 788.1,114.3 789.3,113.3 Z"/>
<text stroke="#000" stroke-width="0.5" stroke-linejoin="round" vector-effect="non-scaling-stroke" transform="translate(20.49,186.45) scale(0.3084,0.3474)" font-family="Liberation Sans" font-weight="bold" font-size="100.0">E</text>
<rect x="85.9" y="164.9" width="4.7" height="21.8" rx="2.3" ry="2.3"/>
<rect x="179.0" y="160.7" width="5.2" height="22.4" rx="2.6" ry="2.6"/>
<text stroke="#000" stroke-width="0.5" stroke-linejoin="round" vector-effect="non-scaling-stroke" transform="translate(226.17,182.85) scale(0.2959,0.3401)" font-family="Liberation Sans" font-weight="bold" font-size="100.0">E</text>
<text stroke="#000" stroke-width="0.5" stroke-linejoin="round" vector-effect="non-scaling-stroke" transform="translate(313.17,182.65) scale(0.2959,0.3401)" font-family="Liberation Sans" font-weight="bold" font-size="100.0">E</text>
<rect x="381.9" y="157.9" width="5.2" height="20.8" rx="2.6" ry="2.6"/>
<rect x="466.4" y="156.9" width="5.0" height="21.8" rx="2.5" ry="2.5"/>
<text stroke="#000" stroke-width="0.5" stroke-linejoin="round" vector-effect="non-scaling-stroke" transform="translate(517.16,178.45) scale(0.2977,0.3241)" font-family="Liberation Sans" font-weight="bold" font-size="100.0">E</text>
<text stroke="#000" stroke-width="0.5" stroke-linejoin="round" vector-effect="non-scaling-stroke" transform="translate(606.09,178.15) scale(0.2923,0.3459)" font-family="Liberation Sans" font-weight="bold" font-size="100.0">E</text>
<rect x="671.2" y="154.8" width="4.0" height="23.2" rx="2.0" ry="2.0"/><path d="M672.2,157.8 L670.0,160.3 L670.0,161.8 L672.2,161.8 Z"/>
<rect x="761.1" y="147.1" width="4.2" height="24.4" rx="2.1" ry="2.1"/><path d="M762.1,150.1 L759.9,152.6 L759.9,154.1 L762.1,154.1 Z"/>
<text stroke="#000" stroke-width="0.5" stroke-linejoin="round" vector-effect="non-scaling-stroke" transform="translate(810.32,172.85) scale(0.2888,0.3401)" font-family="Liberation Sans" font-weight="bold" font-size="100.0">E</text>
<text stroke="#000" stroke-width="1.3" stroke-linejoin="round" vector-effect="non-scaling-stroke" transform="translate(59.72,471.01) scale(0.2276,0.3531)" font-family="Liberation Sans" font-weight="bold" font-size="100.0">6</text>
<text stroke="#000" stroke-width="1.3" stroke-linejoin="round" vector-effect="non-scaling-stroke" transform="translate(204.99,470.70) scale(0.2151,0.3540)" font-family="Liberation Sans" font-weight="bold" font-size="100.0">5</text>
<path d="M358.7,450.6 L360.8,451.3 L361.2,463.2 L362.1,465.2 L361.0,468.0 L360.6,471.7 L357.1,472.2 L356.5,468.7 L352.3,466.3 L351.6,463.7 L355.0,455.4 L357.4,451.3 Z" stroke="#000" stroke-width="1.4" stroke-linejoin="round"/>
<text stroke="#000" stroke-width="1.3" stroke-linejoin="round" vector-effect="non-scaling-stroke" transform="translate(496.04,471.55) scale(0.2233,0.3580)" font-family="Liberation Sans" font-weight="bold" font-size="100.0">3</text>
<text stroke="#000" stroke-width="1.3" stroke-linejoin="round" vector-effect="non-scaling-stroke" transform="translate(640.54,467.35) scale(0.2326,0.3537)" font-family="Liberation Sans" font-weight="bold" font-size="100.0">2</text>
<path d="M794.8,436.2 C797.1,436.2 797.1,437.2 797.1,439.2 L797.1,458.9 C797.1,460.9 792.5,460.9 792.5,458.9 L792.5,441.2 L790.5,440.7 C789.7,439.2 791.0,437.7 792.5,436.7 Z"/>
<text stroke="#000" stroke-width="0.5" stroke-linejoin="round" vector-effect="non-scaling-stroke" transform="translate(25.27,509.65) scale(0.2959,0.3445)" font-family="Liberation Sans" font-weight="bold" font-size="100.0">E</text>
<rect x="93.0" y="486.8" width="4.3" height="21.3" rx="2.1" ry="2.1"/>
<rect x="179.0" y="484.7" width="5.2" height="21.3" rx="2.6" ry="2.6"/>
<text stroke="#000" stroke-width="0.5" stroke-linejoin="round" vector-effect="non-scaling-stroke" transform="translate(232.86,506.75) scale(0.2977,0.3445)" font-family="Liberation Sans" font-weight="bold" font-size="100.0">E</text>
<text stroke="#000" stroke-width="0.5" stroke-linejoin="round" vector-effect="non-scaling-stroke" transform="translate(318.17,507.85) scale(0.2959,0.3474)" font-family="Liberation Sans" font-weight="bold" font-size="100.0">E</text>
<rect x="384.0" y="483.7" width="5.2" height="22.3" rx="2.6" ry="2.6"/>
<rect x="470.9" y="483.9" width="5.5" height="22.3" rx="2.8" ry="2.8"/>
<text stroke="#000" stroke-width="0.5" stroke-linejoin="round" vector-effect="non-scaling-stroke" transform="translate(521.27,505.45) scale(0.2816,0.3401)" font-family="Liberation Sans" font-weight="bold" font-size="100.0">E</text>
<text stroke="#000" stroke-width="0.5" stroke-linejoin="round" vector-effect="non-scaling-stroke" transform="translate(609.23,505.75) scale(0.2870,0.3416)" font-family="Liberation Sans" font-weight="bold" font-size="100.0">E</text>
<rect x="672.7" y="477.8" width="4.7" height="23.9" rx="2.3" ry="2.3"/><path d="M673.7,480.8 L671.5,483.3 L671.5,484.8 L673.7,484.8 Z"/>
<rect x="763.5" y="475.1" width="4.8" height="25.9" rx="2.4" ry="2.4"/><path d="M764.5,478.1 L762.3,480.6 L762.3,482.1 L764.5,482.1 Z"/>
<text stroke="#000" stroke-width="0.5" stroke-linejoin="round" vector-effect="non-scaling-stroke" transform="translate(816.53,501.55) scale(0.2727,0.3387)" font-family="Liberation Sans" font-weight="bold" font-size="100.0">E</text>
<path d="M249.2,306.7 L252.2,306.7 L264.2,328.5 L264.2,330.3 L256.2,330.3 L256.2,356.7 L245.7,356.7 L245.7,330.3 L236.8,330.3 L236.8,328.5 Z" fill="#000" stroke="#000" stroke-width="1.4" stroke-linejoin="round"/>
<path d="M394.2,306.8 L397.2,306.8 L410.5,328.5 L410.5,330.3 L401.4,330.3 L401.4,356.6 L390.4,356.6 L390.4,330.3 L382.7,330.3 L382.7,328.5 Z" fill="#000" stroke="#000" stroke-width="1.4" stroke-linejoin="round"/>
<path d="M540.2,301.7 L543.2,301.7 L555.0,323.0 L555.0,324.8 L547.0,324.8 L547.0,351.5 L535.7,351.5 L535.7,324.8 L528.3,324.8 L528.3,323.0 Z" fill="#000" stroke="#000" stroke-width="1.4" stroke-linejoin="round"/>
<path d="M682.3,298.3 L685.3,298.3 L697.5,319.0 L697.5,320.8 L688.9,320.8 L688.9,347.5 L678.8,347.5 L678.8,320.8 L670.6,320.8 L670.6,319.0 Z" fill="#000" stroke="#000" stroke-width="1.4" stroke-linejoin="round"/>
<path d="M752.9,299.3 L755.9,299.3 L768.4,320.0 L768.4,321.8 L760.4,321.8 L760.4,349.4 L749.4,349.4 L749.4,321.8 L741.8,321.8 L741.8,320.0 Z" fill="#000" stroke="#000" stroke-width="1.4" stroke-linejoin="round"/>
<path d="M827.9,299.3 L830.9,299.3 L842.4,319.0 L842.4,320.8 L834.4,320.8 L834.4,347.5 L824.8,347.5 L824.8,320.8 L817.5,320.8 L817.5,319.0 Z" fill="#000" stroke="#000" stroke-width="1.4" stroke-linejoin="round"/>
<path d="M28.2,638.8 L31.2,638.8 L43.5,659.0 L43.5,660.8 L35.4,660.8 L35.4,688.2 L24.4,688.2 L24.4,660.8 L16.8,660.8 L16.8,659.0 Z" fill="#000" stroke="#000" stroke-width="1.4" stroke-linejoin="round"/>
<path d="M113.0,635.7 L116.0,635.7 L127.2,655.0 L127.2,656.8 L120.8,656.8 L120.8,684.5 L110.1,684.5 L110.1,656.8 L102.7,656.8 L102.7,655.0 Z" fill="#000" stroke="#000" stroke-width="1.4" stroke-linejoin="round"/>
<path d="M172.8,633.7 L175.8,633.7 L188.1,654.0 L188.1,655.8 L181.0,655.8 L181.0,681.5 L169.4,681.5 L169.4,655.8 L160.9,655.8 L160.9,654.0 Z" fill="#000" stroke="#000" stroke-width="1.4" stroke-linejoin="round"/>
<path d="M325.8,632.9 L328.8,632.9 L340.2,651.5 L340.2,653.3 L332.5,653.3 L332.5,680.6 L322.9,680.6 L322.9,653.3 L315.6,653.3 L315.6,651.5 Z" fill="#000" stroke="#000" stroke-width="1.4" stroke-linejoin="round"/>
<path d="M469.5,635.6 L472.5,635.6 L485.1,656.0 L485.1,657.8 L476.9,657.8 L476.9,678.7 L465.9,678.7 L465.9,657.8 L457.7,657.8 L457.7,656.0 Z" fill="#000" stroke="#000" stroke-width="1.4" stroke-linejoin="round"/>
<path d="M611.2,630.7 L614.2,630.7 L626.4,652.0 L626.4,653.8 L618.5,653.8 L618.5,680.0 L608.7,680.0 L608.7,653.8 L599.9,653.8 L599.9,652.0 Z" fill="#000" stroke="#000" stroke-width="1.4" stroke-linejoin="round"/>
<text transform="translate(267.20,107.30) rotate(0.0) scale(0.82,1)" x="0.00 23.29 46.59 69.88 93.17 116.46 139.76 163.05 186.34 209.63 232.93 256.22 279.51 302.80 326.10" y="0" text-anchor="middle" font-family="Liberation Mono" font-size="31.88" stroke="#000" stroke-width="0.3" xml:space="preserve">FRONT OF ENGINE</text>
<text transform="translate(159.00,399.20) rotate(-0.27) scale(0.85,1)" x="0.00 22.41 44.82 67.24 89.65 112.06 134.47 156.88 179.29 201.71 224.12 246.53 268.94 291.35 313.76 336.18 358.59 381.00 403.41 425.82 448.24 470.65 493.06 515.47 537.88 560.29 582.71 605.12" y="0" text-anchor="middle" font-family="Liberation Mono" font-size="30.82" stroke="#000" stroke-width="0.3" xml:space="preserve">NO. 1 TDC COMPRESSION STROKE</text>
<text transform="translate(154.00,709.90) rotate(-0.15) scale(0.85,1)" x="0.00 22.39 44.78 67.16 89.55 111.94 134.33 156.72 179.11 201.49 223.88 246.27 268.66 291.05 313.44 335.82 358.21 380.60 402.99 425.38 447.76 470.15 492.54 514.93 537.32 559.71 582.09 604.48" y="0" text-anchor="middle" font-family="Liberation Mono" font-size="30.82" stroke="#000" stroke-width="0.3" xml:space="preserve">NO. 6 TDC COMPRESSION STROKE</text>
<rect x="554" y="710" width="3" height="2"/><rect x="731" y="127" width="1.2" height="1.2"/>
<path d="M565,93.2 L589,92.3 L589,85.5 L613.5,98.5 L589,113.3 L589,105 L565,105.6 C559.5,105.6 559.5,93.2 565,93.2 Z" fill="#000" stroke="#000" stroke-width="1" stroke-linejoin="round"/>
</g>
</svg>
</body></html>
